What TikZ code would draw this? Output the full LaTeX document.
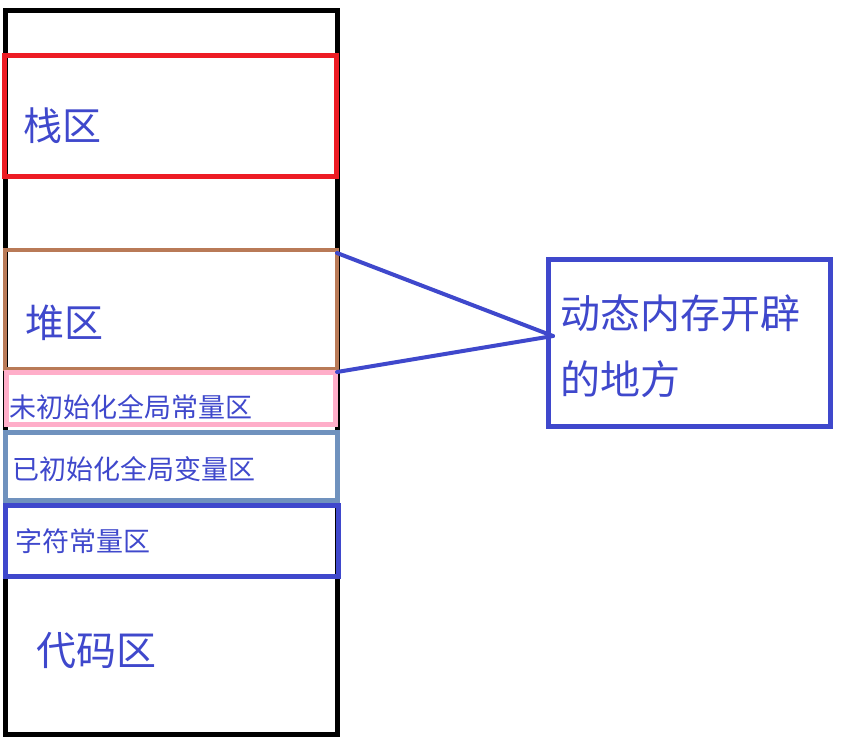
\documentclass[tikz,border=0pt]{standalone}
\usepackage{fontspec}
\newfontfamily\cjk{Noto Sans CJK SC}
\definecolor{tblue}{HTML}{3F48CC}
\definecolor{pred}{HTML}{ED1C24}
\definecolor{pbrown}{HTML}{B97A57}
\definecolor{ppink}{HTML}{FFAEC9}
\definecolor{psteel}{HTML}{7092BE}
\tikzset{
  membox/.style={draw, rectangle, inner sep=0pt, outer sep=0pt, line width=5pt},
  lbl/.style={text=tblue, inner sep=0pt, anchor=base west},
  big/.style={font=\fontsize{39pt}{44pt}\selectfont\cjk},
  small/.style={font=\fontsize{27pt}{30pt}\selectfont\cjk},
  conn/.style={draw=tblue, line width=4pt, line cap=round}
}
\begin{document}
\begin{tikzpicture}[x=1pt,y=-1pt]
\useasboundingbox[fill=white] (0,0) rectangle (841,753);
% outer memory block
\node[membox, draw=black, minimum width=332pt, minimum height=724pt] (mem) at (171.5,372.5) {};
% regions
\node[membox, draw=pred, minimum width=332pt, minimum height=121pt] (stack) at (170.5,116) {};
\node[membox, draw=pbrown, line width=4pt, minimum width=332pt, minimum height=119.5pt] (heap) at (171,309.25) {};
\node[membox, draw=ppink, minimum width=329pt, minimum height=51.5pt] (uninit) at (171,398.25) {};
\node[membox, draw=psteel, minimum width=332pt, minimum height=67.5pt] (init) at (171.5,466.25) {};
\node[membox, draw=tblue, minimum width=332.5pt, minimum height=71pt] (strc) at (171.75,541) {};
\node[membox, draw=tblue, minimum width=282.5pt, minimum height=167.5pt] (dyn) at (689.25,342.75) {};
% labels
\node[lbl, big] (tstack) at (23,140) {栈区};
\node[lbl, big] (theap) at (25,337) {堆区};
\node[lbl, small] (tuninit) at (9,417) {未初始化全局常量区};
\node[lbl, small] (tinit) at (12,479) {已初始化全局变量区};
\node[lbl, small] (tstrc) at (15,551) {字符常量区};
\node[lbl, font=\fontsize{40pt}{44pt}\selectfont\cjk] (tcode) at (36,665) {代码区};
\node[lbl, font=\fontsize{40pt}{66pt}\selectfont\cjk, align=left] (tdyn) at (560,394) {动态内存开辟\\的地方};
% connectors
\coordinate (h1) at (337,253);
\coordinate (h2) at (337,372);
\coordinate (tip) at (553,336);
\draw[conn] (h1) -- (tip);
\draw[conn] (h2) -- (tip);
\end{tikzpicture}
\end{document}
